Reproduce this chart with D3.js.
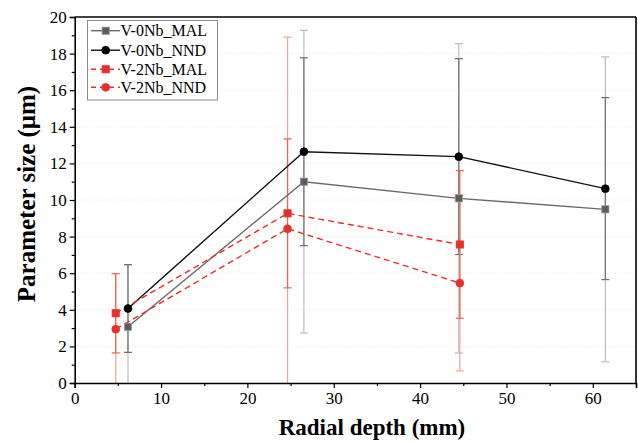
<!DOCTYPE html>
<html>
<head>
<meta charset="utf-8">
<script src="https://cdn.jsdelivr.net/npm/d3@7"></script>
<style>
  html, body { margin: 0; padding: 0; background: #fff; }
  svg { display: block; }
  text { font-family: "Liberation Serif", "Times New Roman", serif; }
</style>
</head>
<body>
<svg id="chart" width="638" height="442"></svg>
<script>
// Radial depth (mm) for each alloy
const depth0Nb = [6.17, 26.54, 44.48, 61.45];
const depth2Nb = [4.75, 24.65, 44.6];

// V-0Nb mean sizes and their deviations (µm)
const mal0Nb    = [3.07, 11.0, 10.09, 9.49];
const mal0NbErr = [3.4, 8.27, 8.45, 8.33];
const nnd0Nb    = [4.07, 12.64, 12.37, 10.62];
const nnd0NbErr = [2.4, 5.13, 5.35, 4.97];

// V-2Nb mean sizes and their deviations (µm)
const mal2Nb    = [3.81, 9.27, 7.57];
const mal2NbErr = [2.16, 4.07, 4.03];
const nnd2Nb    = [2.94, 8.43, 5.46];
const nnd2NbErr = [3.03, 10.47, 4.8];

const xTicks = [0, 10, 20, 30, 40, 50, 60];
const yTicks = [0, 2, 4, 6, 8, 10, 12, 14, 16, 18, 20];

const seriesNames = ["V-0Nb_MAL", "V-0Nb_NND", "V-2Nb_MAL", "V-2Nb_NND"];

const build = (xs, ys, es) => xs.map((x, i) => ({ x, y: ys[i], e: es[i] }));

const series = [
  { name: seriesNames[0], data: build(depth0Nb, mal0Nb, mal0NbErr), line: "#6a6a6a", fill: "#5c5c5c", stroke: "#9a9a9a", err: "#bdbdbd", shape: "square", dash: null },
  { name: seriesNames[1], data: build(depth0Nb, nnd0Nb, nnd0NbErr), line: "#111111", fill: "#000000", stroke: "#000000", err: "#707070", shape: "circle", dash: null },
  { name: seriesNames[2], data: build(depth2Nb, mal2Nb, mal2NbErr), line: "#e8302a", fill: "#e8302a", stroke: "#e8302a", err: "#ec6450", shape: "square", dash: "6,4" },
  { name: seriesNames[3], data: build(depth2Nb, nnd2Nb, nnd2NbErr), line: "#e8302a", fill: "#e8302a", stroke: "#e8302a", err: "#f6a392", shape: "circle", dash: "6,4" }
];

const W = 638, H = 442;
const m = { left: 74.7, right: 2, top: 17, bottom: 59 };
const svg = d3.select("#chart");

const x = d3.scaleLinear().domain([0, 65]).range([m.left, W - m.right]);
const y = d3.scaleLinear().domain([0, 20]).range([H - m.bottom, m.top]);

svg.append("defs").append("clipPath").attr("id", "plot-clip")
  .append("rect")
  .attr("x", x(0)).attr("y", y(20))
  .attr("width", x(65) - x(0)).attr("height", y(0) - y(20));

// faint dotted horizontal grid
svg.append("g").selectAll("line")
  .data(yTicks.filter(t => t > 0 && t < 20))
  .join("line")
  .attr("x1", x(0)).attr("x2", x(65))
  .attr("y1", d => y(d)).attr("y2", d => y(d))
  .attr("stroke", "#e6e6e6").attr("stroke-width", 1)
  .attr("stroke-dasharray", "1,2");

// error bars (drawn beneath the lines)
const errLayer = svg.append("g").attr("clip-path", "url(#plot-clip)");
const errOrder = [series[0], series[1], series[3], series[2]];
errOrder.forEach(s => {
  const g = errLayer.append("g");
  s.data.forEach(d => {
    const top = y(d.y + d.e), bot = y(d.y - d.e), cx = x(d.x);
    g.append("line").attr("x1", cx).attr("x2", cx).attr("y1", top).attr("y2", bot)
      .attr("stroke", s.err).attr("stroke-width", 1.2);
    [top, bot].forEach(yy => {
      g.append("line").attr("x1", cx - 4).attr("x2", cx + 4).attr("y1", yy).attr("y2", yy)
        .attr("stroke", s.err).attr("stroke-width", 1.2);
    });
  });
});

// connecting lines
const lineGen = d3.line().x(d => x(d.x)).y(d => y(d.y));
series.forEach(s => {
  svg.append("path").datum(s.data)
    .attr("d", lineGen)
    .attr("fill", "none")
    .attr("stroke", s.line)
    .attr("stroke-width", 1.4)
    .attr("stroke-dasharray", s.dash);
});

// markers
function drawMarker(g, s, cx, cy) {
  if (s.shape === "square") {
    g.append("rect").attr("x", cx - 3.6).attr("y", cy - 3.6)
      .attr("width", 7.2).attr("height", 7.2)
      .attr("fill", s.fill).attr("stroke", s.stroke).attr("stroke-width", 0.8);
  } else {
    g.append("circle").attr("cx", cx).attr("cy", cy).attr("r", 3.9)
      .attr("fill", s.fill).attr("stroke", s.stroke).attr("stroke-width", 0.8);
  }
}
series.forEach(s => {
  const g = svg.append("g");
  s.data.forEach(d => drawMarker(g, s, x(d.x), y(d.y)));
});

// axes
const xMinor = d3.range(5, 66, 10);
const yMinor = d3.range(1, 20, 2);

const xAxis = svg.append("g").attr("transform", `translate(0,${y(0)})`)
  .call(d3.axisBottom(x).tickValues(xTicks).tickSize(5).tickPadding(4).tickFormat(d3.format("d")));
svg.append("g").attr("transform", `translate(0,${y(0)})`)
  .call(d3.axisBottom(x).tickValues(xMinor).tickSize(3).tickFormat(""))
  .call(g => g.select(".domain").remove());

const yAxis = svg.append("g").attr("transform", `translate(${x(0)},0)`)
  .call(d3.axisLeft(y).tickValues(yTicks).tickSize(5).tickPadding(3).tickFormat(d3.format("d")));
svg.append("g").attr("transform", `translate(${x(0)},0)`)
  .call(d3.axisLeft(y).tickValues(yMinor).tickSize(3).tickFormat(""))
  .call(g => g.select(".domain").remove());

svg.selectAll(".tick line").attr("stroke", "#000").attr("stroke-width", 1.2);
svg.selectAll(".tick text").attr("font-size", 17).attr("fill", "#000")
  .style("font-family", '"Liberation Serif", serif');
svg.selectAll(".domain").attr("stroke", "#000").attr("stroke-width", 1.6);

// top and right frame
svg.append("line").attr("x1", x(0)).attr("x2", x(65)).attr("y1", y(20)).attr("y2", y(20))
  .attr("stroke", "#000").attr("stroke-width", 1.6);
svg.append("line").attr("x1", x(65)).attr("x2", x(65)).attr("y1", y(20)).attr("y2", y(0))
  .attr("stroke", "#000").attr("stroke-width", 1.6);

// axis titles
svg.append("text")
  .attr("x", 372).attr("y", 435)
  .attr("text-anchor", "middle")
  .attr("font-size", 23).attr("font-weight", "bold")
  .text("Radial depth (mm)");

svg.append("text")
  .attr("transform", "translate(35,194) rotate(-90)")
  .attr("text-anchor", "middle")
  .attr("font-size", 25).attr("font-weight", "bold")
  .text("Parameter size (\u03bcm)");

// legend
const lg = svg.append("g");
lg.append("rect").attr("x", 87.5).attr("y", 20.5).attr("width", 130).attr("height", 79.5)
  .attr("fill", "#fff").attr("stroke", "#8a8a8a").attr("stroke-width", 1);
const rowY = [30.7, 50.2, 69.3, 87.3];
series.forEach((s, i) => {
  const yy = rowY[i];
  lg.append("line").attr("x1", 91).attr("x2", 120).attr("y1", yy).attr("y2", yy)
    .attr("stroke", s.line).attr("stroke-width", 1.4)
    .attr("stroke-dasharray", s.dash ? "5,4" : null);
  drawMarker(lg, s, 105.7, yy);
  lg.append("text").attr("x", 120.5).attr("y", yy + 5.5)
    .attr("font-size", 16).attr("fill", "#000")
    .text(s.name);
});
</script>
</body>
</html>
